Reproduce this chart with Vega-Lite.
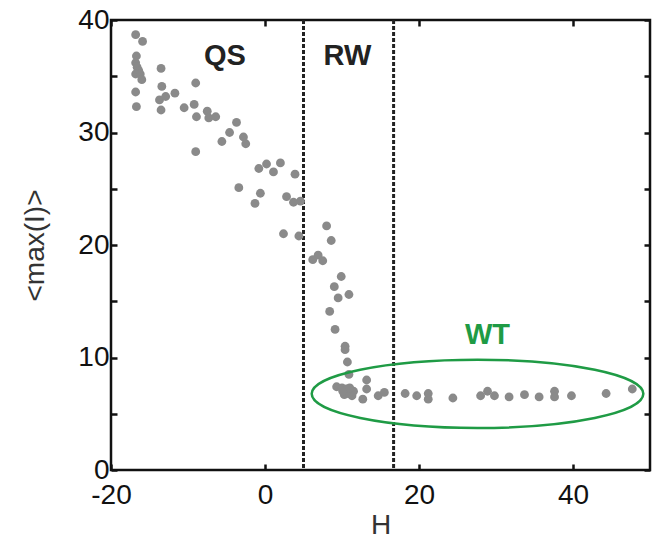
{
  "$schema": "https://vega.github.io/schema/vega-lite/v6.json",
  "autosize": "none",
  "width": 539,
  "height": 450,
  "padding": {"left": 111, "top": 20, "right": 9, "bottom": 69},
  "background": "white",
  "config": {
    "view": {"stroke": "#111", "strokeWidth": 2.5},
    "font": "Liberation Sans",
    "axis": {"grid": false, "domain": false, "labelFlush": false, "tickColor": "#111", "tickWidth": 2.5, "labelColor": "#111", "titleColor": "#333", "labelFont": "Liberation Sans", "titleFont": "Liberation Sans", "labelFontSize": 28, "titleFontSize": 28, "titleFontWeight": "normal"}
  },
  "datasets": {
    "pts": [
      {"H": -16.8, "I": 38.7}, {"H": -15.9, "I": 38.1}, {"H": -16.7, "I": 36.8}, {"H": -16.8, "I": 36.2},
      {"H": -16.6, "I": 35.8}, {"H": -16.4, "I": 35.5}, {"H": -16.8, "I": 35.2}, {"H": -16.2, "I": 35.2},
      {"H": -16.0, "I": 34.7}, {"H": -16.8, "I": 33.6}, {"H": -16.7, "I": 32.3}, {"H": -13.5, "I": 35.7},
      {"H": -13.4, "I": 34.1}, {"H": -13.7, "I": 32.9}, {"H": -12.9, "I": 33.2}, {"H": -11.7, "I": 33.5},
      {"H": -13.5, "I": 32.0}, {"H": -9.0, "I": 34.4}, {"H": -10.5, "I": 32.2}, {"H": -9.2, "I": 32.5},
      {"H": -8.9, "I": 31.4}, {"H": -7.5, "I": 31.9}, {"H": -7.3, "I": 31.3}, {"H": -6.4, "I": 31.4},
      {"H": -9.0, "I": 28.3}, {"H": -3.7, "I": 30.9}, {"H": -4.6, "I": 30.0}, {"H": -5.6, "I": 29.2},
      {"H": -2.8, "I": 29.6}, {"H": -2.5, "I": 29.0}, {"H": -0.8, "I": 26.8}, {"H": 0.2, "I": 27.2},
      {"H": 1.1, "I": 26.5}, {"H": 2.0, "I": 27.3}, {"H": 3.9, "I": 26.3}, {"H": -3.4, "I": 25.1},
      {"H": -0.6, "I": 24.6}, {"H": -1.3, "I": 23.7}, {"H": 2.8, "I": 24.3}, {"H": 3.7, "I": 23.8},
      {"H": 4.6, "I": 23.9}, {"H": 2.4, "I": 21.0}, {"H": 4.4, "I": 20.8}, {"H": 8.0, "I": 21.7},
      {"H": 8.6, "I": 20.4}, {"H": 6.2, "I": 18.7}, {"H": 6.9, "I": 19.1}, {"H": 7.5, "I": 18.6},
      {"H": 9.9, "I": 17.2}, {"H": 9.0, "I": 16.3}, {"H": 10.9, "I": 15.6}, {"H": 9.5, "I": 15.3},
      {"H": 8.4, "I": 14.1}, {"H": 9.1, "I": 12.5}, {"H": 10.4, "I": 11.0}, {"H": 10.4, "I": 10.7},
      {"H": 10.7, "I": 9.6}, {"H": 10.9, "I": 8.5}, {"H": 9.3, "I": 7.4}, {"H": 10.0, "I": 7.3},
      {"H": 10.6, "I": 7.2}, {"H": 10.8, "I": 6.8}, {"H": 11.3, "I": 6.6}, {"H": 10.3, "I": 6.7},
      {"H": 11.5, "I": 7.0}, {"H": 10.1, "I": 7.0}, {"H": 11.0, "I": 7.3}, {"H": 13.2, "I": 8.0},
      {"H": 13.2, "I": 7.2}, {"H": 12.7, "I": 6.3}, {"H": 14.7, "I": 6.6}, {"H": 15.5, "I": 6.9},
      {"H": 18.2, "I": 6.8}, {"H": 19.7, "I": 6.6}, {"H": 21.2, "I": 6.8}, {"H": 21.2, "I": 6.3},
      {"H": 24.4, "I": 6.4}, {"H": 28.0, "I": 6.6}, {"H": 28.9, "I": 7.0}, {"H": 29.8, "I": 6.6},
      {"H": 31.7, "I": 6.5}, {"H": 33.7, "I": 6.7}, {"H": 35.6, "I": 6.5}, {"H": 37.6, "I": 7.0},
      {"H": 37.6, "I": 6.5}, {"H": 39.8, "I": 6.6}, {"H": 44.3, "I": 6.8}, {"H": 47.7, "I": 7.2}
    ],
    "bounds": [{"H": 5.0}, {"H": 16.7}],
    "ellipse": [{"H": 27.6, "I": 6.77}],
    "labels": [
      {"H": -5.2, "I": 36.8, "text": "QS", "grp": "k"},
      {"H": 10.7, "I": 36.8, "text": "RW", "grp": "k"},
      {"H": 28.9, "I": 12.0, "text": "WT", "grp": "g"}
    ]
  },
  "layer": [
    {
      "data": {"name": "bounds"},
      "mark": {"type": "rule", "color": "#222", "strokeWidth": 3, "strokeDash": [4, 2]},
      "encoding": {
        "x": {"field": "H", "type": "quantitative", "scale": {"domain": [-20, 50], "nice": false, "zero": false},
          "axis": {"orient": "bottom", "values": [-20, 0, 20, 40], "labelExpr": "toString(datum.value)", "tickSize": -6, "labelPadding": 17, "title": "H", "titlePadding": 2}}
      }
    },
    {
      "data": {"name": "pts"},
      "mark": {"type": "point", "filled": true, "shape": "circle", "size": 78, "color": "#8a8a8a", "opacity": 1},
      "encoding": {
        "x": {"field": "H", "type": "quantitative", "axis": null},
        "y": {"field": "I", "type": "quantitative", "scale": {"domain": [0, 40], "nice": false},
          "axis": {"orient": "left", "values": [0, 5, 10, 15, 20, 25, 30, 35, 40], "labelExpr": "datum.value % 10 == 0 ? toString(datum.value) : ''", "tickSize": -6, "labelPadding": 8, "title": "<max(I)>", "titlePadding": 28}}
      }
    },
    {
      "data": {"name": "ellipse"},
      "mark": {"type": "point", "filled": false, "shape": "M -1 0 A 1 0.206 0 1 1 1 0 A 1 0.206 0 1 1 -1 0 Z", "size": 110000, "stroke": "#1f9b45", "strokeWidth": 2.5, "opacity": 1},
      "encoding": {
        "x": {"field": "H", "type": "quantitative", "axis": null},
        "y": {"field": "I", "type": "quantitative", "axis": null}
      }
    },
    {
      "data": {"name": "labels"},
      "mark": {"type": "text", "fontSize": 29, "fontWeight": "bold", "font": "Liberation Sans"},
      "encoding": {
        "x": {"field": "H", "type": "quantitative", "axis": null},
        "y": {"field": "I", "type": "quantitative", "axis": null},
        "text": {"field": "text"},
        "color": {"field": "grp", "type": "nominal", "scale": {"domain": ["k", "g"], "range": ["#222222", "#1f9b45"]}, "legend": null}
      }
    },
    {
      "data": {"name": "bounds"},
      "mark": {"type": "rule", "opacity": 0},
      "encoding": {
        "x": {"field": "H", "type": "quantitative", "axis": {"orient": "top", "values": [-20, 0, 20, 40], "tickSize": -6, "labels": false, "title": null}},
        "y": {"datum": 20, "type": "quantitative", "axis": {"orient": "right", "values": [0, 5, 10, 15, 20, 25, 30, 35, 40], "tickSize": -6, "labels": false, "title": null}}
      }
    }
  ],
  "resolve": {"axis": {"x": "independent", "y": "independent"}}
}
